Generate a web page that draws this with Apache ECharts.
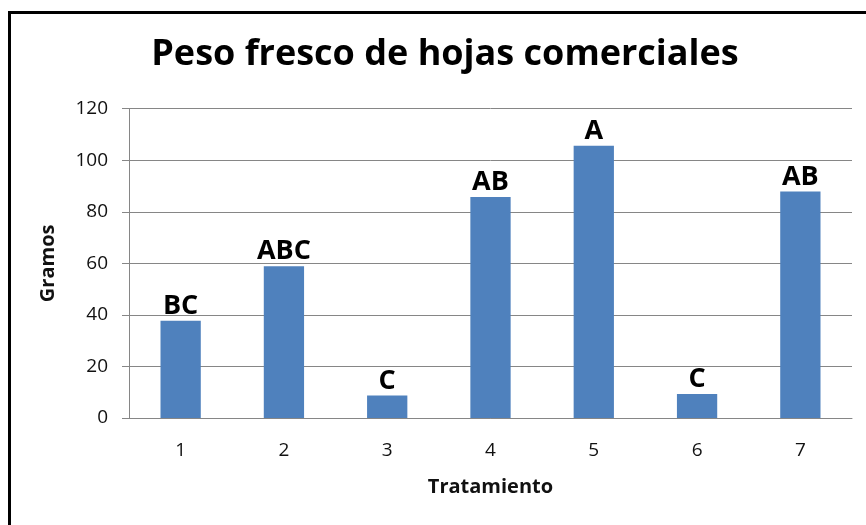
<!DOCTYPE html>
<html>
<head>
<meta charset="utf-8">
<script src="https://cdn.jsdelivr.net/npm/echarts@6/dist/echarts.min.js"></script>
<style>
html,body{margin:0;padding:0;background:#fff;}
#chart{width:866px;height:525px;}
</style>
</head>
<body>
<div id="chart"></div>
<script>
const categories = ['1','2','3','4','5','6','7'];
const values = [37.7, 58.9, 8.7, 85.7, 105.6, 9.3, 87.9];
const letters = ['BC','ABC','C','AB','A','C','AB'];
const yTicks = {min:0, max:120, interval:20};

const chart = echarts.init(document.getElementById('chart'));
chart.setOption({
  backgroundColor:'#fff',
  animation:false,
  title:{
    text:'Peso fresco de hojas comerciales',
    left:440, top:32, textAlign:'center',
    textStyle:{fontFamily:'Open Sans', fontWeight:'bold', fontSize:36, color:'#000'}
  },
  graphic:[{
    type:'rect', left:7, top:10,
    shape:{width:900, height:600},
    style:{fill:'none', stroke:'#000', lineWidth:3},
    silent:true
  }],
  grid:{left:129, right:14, top:108.7, bottom:107, containLabel:false},
  xAxis:{
    type:'category', data:categories,
    name:'Tratamiento', nameLocation:'middle', nameGap:59,
    nameTextStyle:{fontFamily:'Open Sans', fontWeight:'bold', fontSize:20, color:'#111'},
    axisLine:{lineStyle:{color:'#868686', width:1}},
    axisTick:{show:false},
    axisLabel:{fontFamily:'Open Sans', fontSize:19, color:'#111', margin:23}
  },
  yAxis:{
    type:'value', min:yTicks.min, max:yTicks.max, interval:yTicks.interval,
    name:'Gramos', nameLocation:'middle', nameGap:71,
    nameTextStyle:{fontFamily:'Open Sans', fontWeight:'bold', fontSize:20, color:'#111'},
    axisLine:{show:true, lineStyle:{color:'#868686', width:1}},
    axisTick:{show:true, length:7, lineStyle:{color:'#868686'}},
    splitLine:{lineStyle:{color:'#868686', width:1}},
    axisLabel:{fontFamily:'Open Sans', fontSize:19, color:'#111', margin:21}
  },
  series:[{
    type:'bar', data:values, barWidth:'39%',
    itemStyle:{color:'#4F81BD'},
    label:{
      show:true, position:'top', distance:1,
      formatter:(p)=>letters[p.dataIndex],
      fontFamily:'Open Sans', fontWeight:'bold', fontSize:27, color:'#000'
    }
  }]
});
</script>
</body>
</html>
